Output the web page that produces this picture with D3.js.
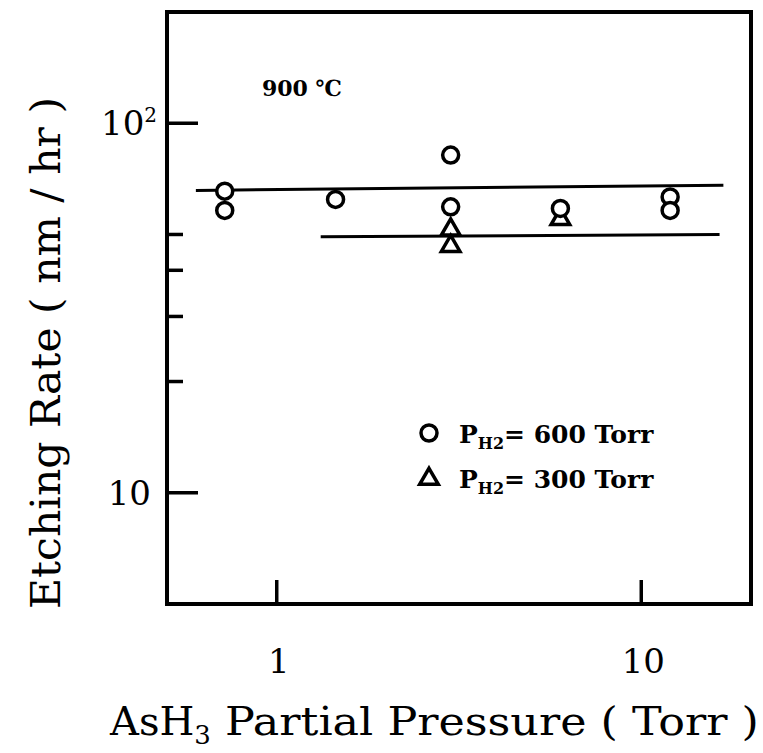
<!DOCTYPE html>
<html><head><meta charset="utf-8">
<script src="https://cdn.jsdelivr.net/npm/d3@7"></script>
<style>body{margin:0;background:#fff}svg{display:block}</style>
</head><body>
<script>
// ---- data ----
const xDomain = [0.5, 20];
const yDomain = [5, 200];
const xTickValues = [1, 10];
const xTickLabels = ["1", "10"];
const yMajorTicks = [10, 100];
const yMinorTicks = [20, 30, 40, 50];
const circleX = [0.72, 0.72, 1.45, 3, 3, 6, 12, 12];
const circleY = [65.5, 58.1, 62.2, 82, 59.4, 58.8, 63.2, 58.1];
const triangleX = [3, 3, 6];
const triangleY = [51.5, 46.5, 55];
const fit600X = [0.6, 16.8];
const fit600Y = [65.8, 68.0];
const fit300X = [1.32, 16.4];
const fit300Y = [49.3, 50.0];

const W = 763, H = 753;
const L = 167, R = 751, T = 12, B = 604;
const svg = d3.select("body").append("svg").attr("width", W).attr("height", H);
const x = d3.scaleLog().domain(xDomain).range([L, R]);
const y = d3.scaleLog().domain(yDomain).range([B, T]);
const serif = "'DejaVu Serif', 'Liberation Serif', serif";

// frame
svg.append("rect").attr("x", L).attr("y", T).attr("width", R - L).attr("height", B - T)
  .attr("fill", "none").attr("stroke", "#000").attr("stroke-width", 4);

// y ticks
svg.selectAll(".ymaj").data(yMajorTicks).enter().append("line")
  .attr("x1", L).attr("x2", L + 31).attr("y1", d => y(d)).attr("y2", d => y(d))
  .attr("stroke", "#000").attr("stroke-width", 3.5);
svg.selectAll(".ymin").data(yMinorTicks).enter().append("line")
  .attr("x1", L).attr("x2", L + 16).attr("y1", d => y(d)).attr("y2", d => y(d))
  .attr("stroke", "#000").attr("stroke-width", 3.5);
// y tick labels
svg.append("text").attr("x", 151).attr("y", y(10) + 12).attr("text-anchor", "end")
  .attr("font-family", serif).attr("font-size", 34).text("10");
const lab100 = svg.append("text").attr("x", 157).attr("y", y(100) + 12).attr("text-anchor", "end")
  .attr("font-family", serif).attr("font-size", 34);
lab100.append("tspan").text("10");
lab100.append("tspan").attr("dy", -13).attr("font-size", 20).text("2");

// x ticks
svg.selectAll(".xt").data(xTickValues).enter().append("line")
  .attr("x1", d => x(d)).attr("x2", d => x(d)).attr("y1", B).attr("y2", B - 24)
  .attr("stroke", "#000").attr("stroke-width", 3.5);
svg.selectAll(".xl").data(xTickValues).enter().append("text")
  .attr("x", d => x(d) + 2).attr("y", 673).attr("text-anchor", "middle")
  .attr("font-family", serif).attr("font-size", 34).text((d, i) => xTickLabels[i]);

// fit lines
const line = d3.line().x(d => x(d[0])).y(d => y(d[1]));
svg.append("path").attr("d", line(fit600X.map((v, i) => [v, fit600Y[i]])))
  .attr("stroke", "#000").attr("stroke-width", 3).attr("fill", "none");
svg.append("path").attr("d", line(fit300X.map((v, i) => [v, fit300Y[i]])))
  .attr("stroke", "#000").attr("stroke-width", 3).attr("fill", "none");

// markers
const tri = d3.symbol().type(d3.symbolTriangle).size(150);
svg.selectAll(".tri").data(triangleX).enter().append("path")
  .attr("d", tri).attr("transform", (d, i) => `translate(${x(d)},${y(triangleY[i])})`)
  .attr("fill", "#fff").attr("stroke", "#000").attr("stroke-width", 3.5);
svg.selectAll(".circ").data(circleX).enter().append("circle")
  .attr("cx", d => x(d)).attr("cy", (d, i) => y(circleY[i])).attr("r", 8)
  .attr("fill", "#fff").attr("stroke", "#000").attr("stroke-width", 3.5);

// annotation
svg.append("text").attr("x", 262).attr("y", 96).attr("font-family", serif)
  .attr("font-weight", "bold").attr("font-size", 22).text("900 ℃");

// legend
const legY = [433, 478];
const legLabels = ["600 Torr", "300 Torr"];
svg.append("circle").attr("cx", 429).attr("cy", legY[0]).attr("r", 8)
  .attr("fill", "#fff").attr("stroke", "#000").attr("stroke-width", 3.5);
svg.append("path").attr("d", tri).attr("transform", `translate(429,${legY[1] + 1})`)
  .attr("fill", "#fff").attr("stroke", "#000").attr("stroke-width", 3.5);
legLabels.forEach((t, i) => {
  const tx = svg.append("text").attr("x", 459).attr("y", legY[i] + 10)
    .attr("font-family", serif).attr("font-weight", "bold").attr("font-size", 25);
  tx.append("tspan").text("P");
  tx.append("tspan").attr("dy", 6).attr("font-size", 16).text("H2");
  tx.append("tspan").attr("dy", -6).text("= " + t);
});

// axis titles
svg.append("text").attr("transform", `translate(60,353) rotate(-90)`)
  .attr("text-anchor", "middle").attr("font-family", serif).attr("font-size", 41)
  .attr("textLength", 512).attr("lengthAdjust", "spacingAndGlyphs")
  .text("Etching Rate ( nm / hr )");
const xt = svg.append("text").attr("x", 110).attr("y", 735)
  .attr("font-family", serif).attr("font-size", 40);
xt.append("tspan").text("AsH");
xt.append("tspan").attr("dy", 9).attr("font-size", 26).text("3");
xt.append("tspan").attr("dy", -9).attr("textLength", 548).attr("lengthAdjust", "spacingAndGlyphs")
  .text(" Partial Pressure ( Torr )");
</script>
</body></html>
